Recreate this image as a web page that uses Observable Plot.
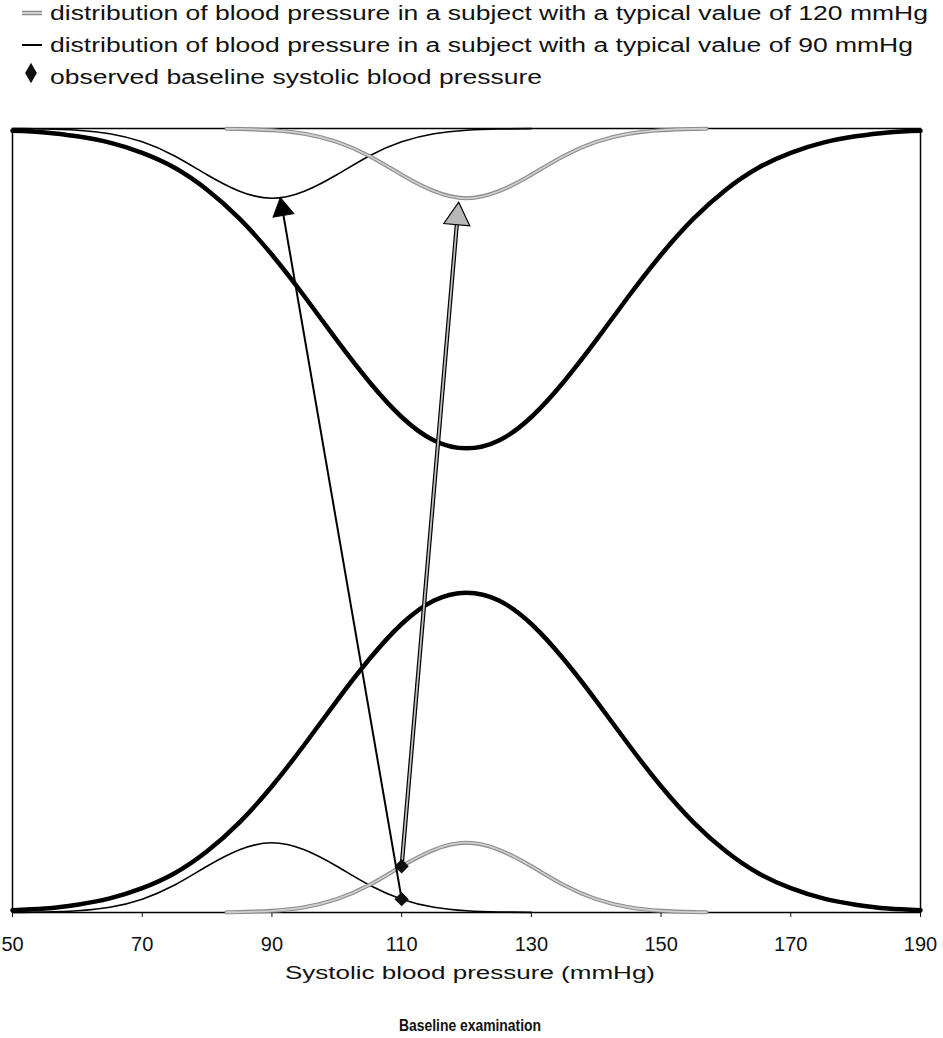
<!DOCTYPE html>
<html><head><meta charset="utf-8">
<script src="https://cdn.jsdelivr.net/npm/d3@7"></script>
<script src="https://cdn.jsdelivr.net/npm/@observablehq/plot@0.6"></script>
<style>
body{margin:0;background:#fff;font-family:"Liberation Sans",Arial,sans-serif;}
#wrap{width:943px;height:1038px;overflow:hidden;}
#wrap svg{display:block;}
</style></head><body><div id="wrap"></div>
<script>
// ---- data ----
const bpGrid = [50,55,60,65,70,75,80,85,90,95,100,105,110,115,120,125,130,135,140,145,150,155,160,165,170,175,180,185,190];
const populationFreq = [0.3,0.5,1.0,1.8,3.1,5.0,7.8,11.5,16.1,21.4,27.0,32.3,36.8,39.8,40.8,39.8,36.8,32.3,27.0,21.4,16.1,11.5,7.8,5.0,3.1,1.8,1.0,0.5,0.3];
const subject90Grid = [50,55,60,65,70,75,80,85,90,95,100,105,110,115,120,125,130];
const subject90Freq = [0.01,0.06,0.22,0.67,1.7,3.5,5.9,8.0,8.9,8.0,5.9,3.5,1.7,0.67,0.22,0.06,0.01];
const subject120Grid = [83,85,90,95,100,105,110,115,120,125,130,135,140,145,150,155,157];
const subject120Freq = [0.03,0.06,0.22,0.67,1.7,3.5,5.9,8.0,8.9,8.0,5.9,3.5,1.7,0.67,0.22,0.06,0.03];
const observedBP = [110, 110];
const observedFreq = [1.7, 5.9];          // on the 90 and 120 mmHg subject curves
const arrowTargetBP = [91.3, 118.8];
const arrowTargetFreq = [91.2, 90.6];
const arrowKind = ["90", "120"];
const xTicks = [50,70,90,110,130,150,170,190];
const legendLabels = [
  "distribution of blood pressure in a subject with a typical value of 120 mmHg",
  "distribution of blood pressure in a subject with a typical value of 90 mmHg",
  "observed baseline systolic blood pressure"
];
const xLabel = "Systolic blood pressure (mmHg)";
const caption = "Baseline examination";

// ---- layout ----
const W = 943, H = 860, mL = 12, mR = 23, mT = 28, mB = 48;
const TOP = 100;
const kx = (W - mL - mR) / (190 - 50);
const ky = (H - mT - mB) / TOP;

const pop = bpGrid.map((x, i) => ({x, y: populationFreq[i]}));
const s90 = subject90Grid.map((x, i) => ({x, y: subject90Freq[i]}));
const s120 = subject120Grid.map((x, i) => ({x, y: subject120Freq[i]}));
const obs = observedBP.map((x, i) => ({x, y: observedFreq[i]}));

const arrows = observedBP.map((x1, i) => {
  const y1 = observedFreq[i], x2 = arrowTargetBP[i], y2 = arrowTargetFreq[i];
  const dxp = (x2 - x1) * kx, dyp = -(y2 - y1) * ky;
  const L = Math.hypot(dxp, dyp);
  const side = arrowKind[i] === "90" ? 21 : 26;
  const half = side / (2 * Math.sqrt(3));            // |y| of d3 triangle
  const tipDist = 2 * half;
  const r = Math.sqrt(half * half * 3 * Math.sqrt(3) / Math.PI);
  const cx = x2 - (dxp / L) * tipDist / kx;
  const cy = y2 + (dyp / L) * tipDist / ky;
  return {x1, y1, cx, cy, r, rotate: Math.atan2(dxp, -dyp) * 180 / Math.PI, kind: arrowKind[i]};
});
const a90 = arrows.filter(d => d.kind === "90");
const a120 = arrows.filter(d => d.kind === "120");

const wrap = document.getElementById("wrap");

// ---- legend (above) ----
const leg = d3.create("svg").attr("width", W).attr("height", 100)
  .style("font-family", '"Liberation Sans", Arial, sans-serif');
leg.append("line").attr("x1", 22).attr("x2", 42).attr("y1", 13).attr("y2", 13).attr("stroke", "#888").attr("stroke-width", 4.5);
leg.append("line").attr("x1", 22).attr("x2", 42).attr("y1", 13).attr("y2", 13).attr("stroke", "#d0d0d0").attr("stroke-width", 2);
leg.append("line").attr("x1", 22).attr("x2", 42).attr("y1", 45).attr("y2", 45).attr("stroke", "#000").attr("stroke-width", 2);
leg.append("path").attr("d", d3.symbol(d3.symbolDiamond, 120)()).attr("transform", "translate(31,73)").attr("fill", "#111");
const legLen = [878, 863, 492];
legendLabels.forEach((t, i) => {
  leg.append("text").attr("x", 50).attr("y", 13 + 32 * i).attr("dy", "0.35em")
    .attr("font-size", 20).attr("fill", "#111")
    .attr("textLength", legLen[i]).attr("lengthAdjust", "spacingAndGlyphs").text(t);
});
wrap.appendChild(leg.node());

// ---- chart ----
const topY = d => TOP - d.y;
const chart = Plot.plot({
  width: W, height: H,
  marginLeft: mL, marginRight: mR, marginTop: mT, marginBottom: mB,
  style: {fontFamily: '"Liberation Sans", Arial, sans-serif', fontSize: "20px", color: "#111", background: "#fff"},
  x: {domain: [50, 190], ticks: xTicks, tickSize: 5, tickPadding: 19, tickFormat: d => String(d), label: null},
  y: {domain: [0, TOP], axis: null},
  marks: [
    Plot.frame({stroke: "#000", strokeWidth: 1.5}),
    // population distributions (thick)
    Plot.line(pop, {x: "x", y: "y", curve: "natural", stroke: "#000", strokeWidth: 4.5}),
    Plot.line(pop, {x: "x", y: topY, curve: "natural", stroke: "#000", strokeWidth: 4.5}),
    // subject with typical value 90 (thin black)
    Plot.line(s90, {x: "x", y: "y", curve: "natural", stroke: "#000", strokeWidth: 1.6}),
    Plot.line(s90, {x: "x", y: topY, curve: "natural", stroke: "#000", strokeWidth: 1.6}),
    // subject with typical value 120 (gray)
    Plot.line(s120, {x: "x", y: "y", curve: "natural", stroke: "#8a8a8a", strokeWidth: 4}),
    Plot.line(s120, {x: "x", y: "y", curve: "natural", stroke: "#cfcfcf", strokeWidth: 1.8}),
    Plot.line(s120, {x: "x", y: topY, curve: "natural", stroke: "#8a8a8a", strokeWidth: 4}),
    Plot.line(s120, {x: "x", y: topY, curve: "natural", stroke: "#cfcfcf", strokeWidth: 1.8}),
    // arrows
    Plot.link(a90, {x1: "x1", y1: "y1", x2: "cx", y2: "cy", stroke: "#000", strokeWidth: 2}),
    Plot.dot(a90, {x: "cx", y: "cy", r: a90[0].r, rotate: "rotate", symbol: "triangle", fill: "#000", stroke: "#000", strokeWidth: 1}),
    Plot.link(a120, {x1: "x1", y1: "y1", x2: "cx", y2: "cy", stroke: "#000", strokeWidth: 4.2}),
    Plot.link(a120, {x1: "x1", y1: "y1", x2: "cx", y2: "cy", stroke: "#bdbdbd", strokeWidth: 1.8}),
    Plot.dot(a120, {x: "cx", y: "cy", r: a120[0].r, rotate: "rotate", symbol: "triangle", fill: "#b8b8b8", stroke: "#000", strokeWidth: 1.2}),
    // observed baseline values
    Plot.dot(obs, {x: "x", y: "y", symbol: "diamond2", r: 5.5, fill: "#111", stroke: "#111"})
  ]
});
chart.setAttribute("shape-rendering", "auto");
wrap.appendChild(chart);

// ---- labels (below) ----
const below = d3.create("svg").attr("width", W).attr("height", 78)
  .style("font-family", '"Liberation Sans", Arial, sans-serif');
below.append("text").attr("x", 470).attr("y", 13).attr("dy", "0.35em").attr("text-anchor", "middle")
  .attr("font-size", 18).attr("fill", "#111").attr("textLength", 370).attr("lengthAdjust", "spacingAndGlyphs").text(xLabel);
below.append("text").attr("x", 470).attr("y", 65).attr("dy", "0.35em").attr("text-anchor", "middle")
  .attr("font-size", 16).attr("font-weight", "bold").attr("fill", "#111")
  .attr("textLength", 142).attr("lengthAdjust", "spacingAndGlyphs").text(caption);
wrap.appendChild(below.node());
</script>
</body></html>
